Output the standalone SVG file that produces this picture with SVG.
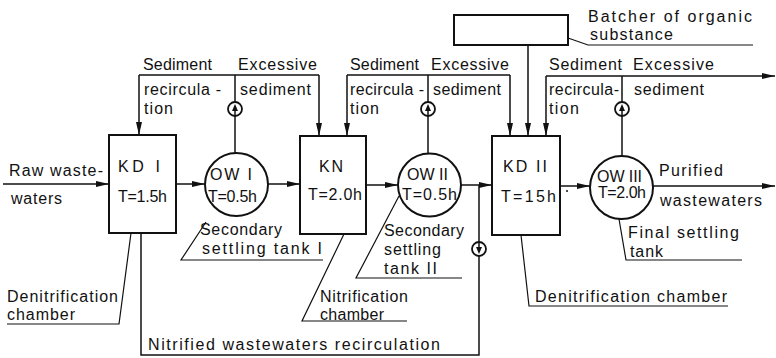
<svg xmlns="http://www.w3.org/2000/svg" width="776" height="358" viewBox="0 0 776 358">
<style>
text{font-family:"Liberation Sans",Arial,sans-serif;font-size:16px;fill:#111}
.b{fill:none;stroke:#111;stroke-width:2}
.l{fill:none;stroke:#111;stroke-width:1.5}
.t{fill:none;stroke:#111;stroke-width:1.2}
</style>
<defs>
<marker id="a" markerWidth="14" markerHeight="8" refX="13" refY="4" orient="auto" markerUnits="userSpaceOnUse"><path d="M0,1 L13,4 L0,7 Z" fill="#111"/></marker>
<g id="pump"><circle r="7" fill="#fff" stroke="#111" stroke-width="1.8"/><path d="M0,-5 L-3,2 L3,2 Z" fill="#111"/><line x1="0" y1="0" x2="0" y2="7" stroke="#111" stroke-width="1.5"/></g>
</defs>
<rect width="776" height="358" fill="#fff"/>
<g id="connectors">
<line class="l" x1="3" y1="184" x2="109" y2="184" marker-end="url(#a)"/>
<line class="l" x1="176" y1="184" x2="205" y2="184" marker-end="url(#a)"/>
<line class="l" x1="268" y1="184" x2="300" y2="184" marker-end="url(#a)"/>
<line class="l" x1="366" y1="185" x2="398" y2="185" marker-end="url(#a)"/>
<line class="l" x1="461" y1="185" x2="492" y2="185" marker-end="url(#a)"/>
<line class="l" x1="560" y1="186" x2="590" y2="186" marker-end="url(#a)"/>
<line class="l" x1="653" y1="186" x2="775" y2="186" marker-end="url(#a)"/>
<polyline class="l" points="139,75 319,75"/>
<line class="l" x1="139" y1="75" x2="139" y2="135" marker-end="url(#a)"/>
<line class="l" x1="319" y1="75" x2="319" y2="136" marker-end="url(#a)"/>
<line class="l" x1="235" y1="75" x2="235" y2="153"/>
<polyline class="l" points="347,75 510,75"/>
<line class="l" x1="347" y1="75" x2="347" y2="136" marker-end="url(#a)"/>
<line class="l" x1="510" y1="75" x2="510" y2="136" marker-end="url(#a)"/>
<line class="l" x1="428" y1="75" x2="428" y2="153"/>
<line class="l" x1="528" y1="45" x2="528" y2="136" marker-end="url(#a)"/>
<line class="l" x1="546" y1="76" x2="775" y2="76" marker-end="url(#a)"/>
<line class="l" x1="546" y1="76" x2="546" y2="136" marker-end="url(#a)"/>
<line class="l" x1="622" y1="76" x2="622" y2="156"/>
<polyline class="l" points="141,233 141,355 479,355 479,185"/>
<use href="#pump" x="235" y="109"/>
<use href="#pump" x="428" y="109"/>
<use href="#pump" x="622" y="109"/>
<use href="#pump" transform="translate(479,249) rotate(180)"/>
<circle cx="567" cy="191" r="1" fill="#111"/>
</g>
<g id="leaders">
<polyline class="t" points="131,233 119,324 7,324"/>
<polyline class="t" points="206,222 181,260 323,260"/>
<polyline class="t" points="344,234 302,321 407,321"/>
<polyline class="t" points="399,196 356,278 462,278"/>
<polyline class="t" points="521,235 529,306 728,306"/>
<polyline class="t" points="619,219 626,260 742,260"/>
<polyline class="t" points="568,38 588,45 753,45"/>
</g>
<g id="kd1"><rect class="b" x="109" y="135" width="67" height="98"/><text x="118" y="172" textLength="42">KD I</text><text x="118" y="202" textLength="49">T=1.5h</text></g>
<g id="ow1"><circle class="b" cx="236.5" cy="184.5" r="31.5"/><text x="210" y="180" textLength="42">OW I</text><text x="208" y="202" textLength="49">T=0.5h</text></g>
<g id="kn"><rect class="b" x="300" y="136" width="66" height="98"/><text x="319" y="172" textLength="24">KN</text><text x="308" y="200" textLength="54">T=2.0h</text></g>
<g id="ow2"><circle class="b" cx="429.5" cy="185" r="31.5"/><text x="407" y="180" textLength="41">OW II</text><text x="402" y="200" textLength="55">T=0.5h</text></g>
<g id="kd2"><rect class="b" x="492" y="136" width="68" height="99"/><text x="503" y="172" textLength="44">KD II</text><text x="501" y="202" textLength="55">T=15h</text></g>
<g id="ow3"><circle class="b" cx="621.5" cy="187.5" r="31.5"/><text x="597" y="182" textLength="45">OW III</text><text x="598" y="198" textLength="48">T=2.0h</text></g>
<g id="batcher"><rect class="b" x="454" y="15" width="114" height="30"/></g>
<g id="labels">
<text x="9" y="176" textLength="94">Raw waste-</text>
<text x="11" y="204" textLength="51">waters</text>
<text x="143" y="70" textLength="69">Sediment</text>
<text x="238" y="70" textLength="79">Excessive</text>
<text x="144" y="95" textLength="77">recircula -</text>
<text x="144" y="114" textLength="29">tion</text>
<text x="240" y="95" textLength="71">sediment</text>
<text x="350" y="70" textLength="69">Sediment</text>
<text x="431" y="70" textLength="78">Excessive</text>
<text x="350" y="95" textLength="74">recircula -</text>
<text x="350" y="114" textLength="29">tion</text>
<text x="433" y="95" textLength="68">sediment</text>
<text x="549" y="70" textLength="73">Sediment</text>
<text x="633" y="70" textLength="81">Excessive</text>
<text x="549" y="95" textLength="70">recircula-</text>
<text x="549" y="114" textLength="30">tion</text>
<text x="634" y="95" textLength="70">sediment</text>
<text x="588" y="22" textLength="164">Batcher of organic</text>
<text x="590" y="40" textLength="83">substance</text>
<text x="659" y="176" textLength="64">Purified</text>
<text x="660" y="206" textLength="102">wastewaters</text>
<text x="628" y="238" textLength="111">Final settling</text>
<text x="630" y="257" textLength="33">tank</text>
<text x="535" y="302" textLength="192">Denitrification chamber</text>
<text x="7" y="302" textLength="111">Denitrification</text>
<text x="7" y="320" textLength="68">chamber</text>
<text x="200" y="235" textLength="82">Secondary</text>
<text x="202" y="254" textLength="120">settling tank I</text>
<text x="384" y="236" textLength="80">Secondary</text>
<text x="384" y="255" textLength="57">settling</text>
<text x="384" y="274" textLength="53">tank II</text>
<text x="320" y="302" textLength="88">Nitrification</text>
<text x="320" y="320" textLength="64">chamber</text>
<text x="148" y="350" textLength="292">Nitrified wastewaters recirculation</text>
</g>
</svg>
